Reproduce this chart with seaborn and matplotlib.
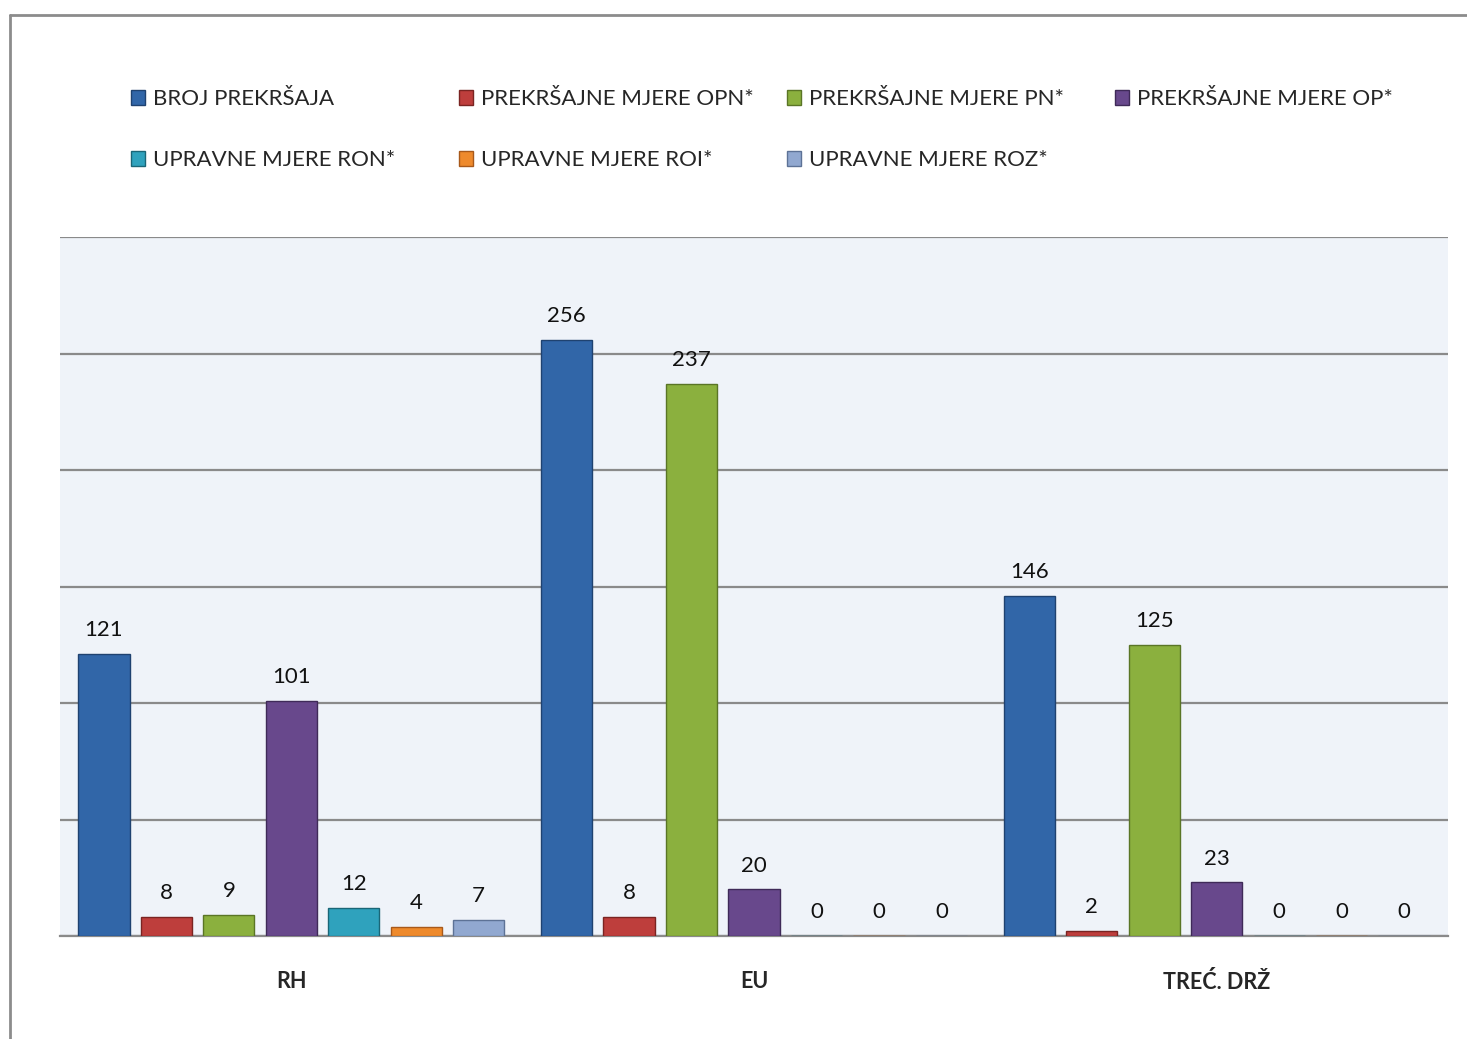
import numpy as np
import pandas as pd
import seaborn as sns
import matplotlib.pyplot as plt
from matplotlib.patches import Patch
from matplotlib.lines import Line2D

groups = ["RH", "EU", "TREĆ. DRŽ"]
series = ["BROJ PREKRŠAJA", "PREKRŠAJNE MJERE OPN*", "PREKRŠAJNE MJERE PN*",
          "PREKRŠAJNE MJERE OP*", "UPRAVNE MJERE RON*", "UPRAVNE MJERE ROI*",
          "UPRAVNE MJERE ROZ*"]
broj = [121, 256, 146]
opn = [8, 8, 2]
pn = [9, 237, 125]
op = [101, 20, 23]
ron = [12, 0, 0]
roi = [4, 0, 0]
roz = [7, 0, 0]
colors = ["#3166A8", "#BE3E3C", "#8BB03E", "#68488C", "#2FA2BD", "#EE8A2C", "#91A8D0"]
edges = ["#1F4270", "#7A2422", "#5A7526", "#3F2A58", "#1A6677", "#A8591A", "#5D7296"]

df = pd.DataFrame({
    "grupa": groups * 7,
    "serija": np.repeat(series, 3),
    "vrijednost": broj + opn + pn + op + ron + roi + roz,
})

sns.set_theme(style="white")
plt.rcParams["font.family"] = ["Lato", "DejaVu Sans"]

fig = plt.figure(figsize=(14.67, 10.39), dpi=100)
ax = fig.add_axes([60 / 1467, 1 - 936 / 1039, 1388 / 1467, 699 / 1039])
ax.set_facecolor("#EFF3F9")

sns.barplot(data=df, x="grupa", y="vrijednost", hue="serija", order=groups,
            hue_order=series, palette=colors, width=0.945, gap=0.18,
            legend=False, ax=ax, saturation=1)

for i, cont in enumerate(ax.containers):
    for b in cont:
        b.set_edgecolor(edges[i])
        b.set_linewidth(1.0)
        b.set_zorder(3)
    ax.bar_label(cont, padding=10, fontsize=16, color="#111111")

ax.set_ylim(0, 300)
ax.set_yticks(np.arange(0, 301, 50))
ax.set_yticklabels([])
ax.yaxis.grid(True, color="#8A8A8A", linewidth=1.6)
ax.set_axisbelow(True)
for s in ["left", "right", "top"]:
    ax.spines[s].set_visible(False)
ax.spines["bottom"].set_color("#8A8A8A")
ax.spines["bottom"].set_linewidth(1.6)
ax.tick_params(axis="both", length=0)
ax.set_xlabel("")
ax.set_ylabel("")
for lbl in ax.get_xticklabels():
    lbl.set_fontweight("bold")
    lbl.set_fontsize(15.5)
ax.tick_params(axis="x", pad=25)
ax.set_xlim(-0.5, 2.5)

# legend, manually spaced columns
col_x = [131, 459, 787, 1115]
row_y = [99, 160]
for k, (name, c, e) in enumerate(zip(series, colors, edges)):
    r, cc = divmod(k, 4)
    h = Patch(facecolor=c, edgecolor=e)
    fig.legend([h], [name], loc="center left",
               bbox_to_anchor=(col_x[cc] / 1467, 1 - row_y[r] / 1039),
               frameon=False, fontsize=16, handlelength=0.65, handleheight=0.65,
               handletextpad=0.35, borderpad=0, borderaxespad=0)

# outer frame
fig.add_artist(Line2D([10 / 1467, 10 / 1467], [0, 1 - 15 / 1039], color="#8C8C8C", lw=2))
fig.add_artist(Line2D([10 / 1467, 1], [1 - 15 / 1039, 1 - 15 / 1039], color="#8C8C8C", lw=2))

fig.savefig("out.png", dpi=100)
